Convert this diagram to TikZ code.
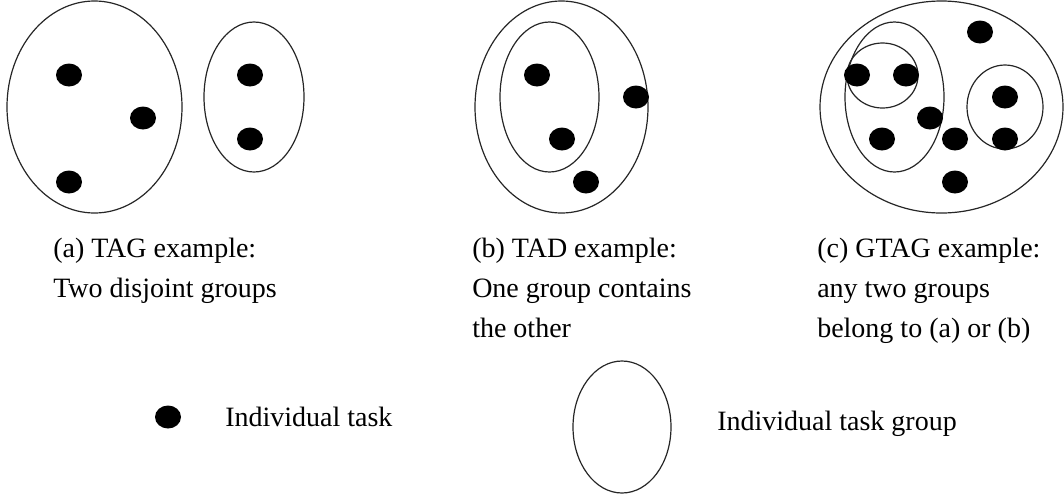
\documentclass[tikz,border=0pt]{standalone}
\usepackage{fontspec}
\setmainfont{Liberation Serif}
\usetikzlibrary{shapes}
\usetikzlibrary{positioning}
\tikzset{
    tasknode/.style = {ellipse, fill=black, inner sep=0pt, minimum width=19.5pt, minimum height=17.25pt},
    groupnode/.style 2 args = {ellipse, draw=black!85, line width=0.9pt, inner sep=0pt, minimum width=#1, minimum height=#2},
    captext/.style = {align=left, anchor=north west, inner sep=0pt, font=\fontsize{21}{30}\selectfont},
    legtext/.style = {anchor=base west, inner sep=0pt, font=\fontsize{21}{30}\selectfont},
}
\begin{document}
\begin{tikzpicture}[x=0.75pt, y=-0.75pt]
  \useasboundingbox (0,0) rectangle (1064,497);
  % (a) two disjoint groups
  \node[groupnode={131.25pt}{159pt}] (ga1) at (94.5,107) {};
  \node[groupnode={75pt}{112.5pt}] (ga2) at (254,97) {};
  \node[tasknode] (ta1) at (69,75) {};
  \node[tasknode] (ta2) at (143,118) {};
  \node[tasknode] (ta3) at (69,182) {};
  \node[tasknode] (ta4) at (250,75) {};
  \node[tasknode] (ta5) at (250,139) {};
  % (b) one group inside the other
  \node[groupnode={129.75pt}{159pt}] (gb1) at (561.5,107) {};
  \node[groupnode={74.25pt}{112.5pt}] (gb2) at (549.5,97) {};
  \node[tasknode] (tb1) at (537,75) {};
  \node[tasknode] (tb2) at (636,97) {};
  \node[tasknode] (tb3) at (562,139) {};
  \node[tasknode] (tb4) at (586,182) {};
  % (c) general case
  \node[groupnode={182.25pt}{159pt}] (gc1) at (941.5,107) {};
  \node[groupnode={74.25pt}{112.5pt}] (gc2) at (894.5,97) {};
  \node[groupnode={53.25pt}{48.75pt}] (gc3) at (882.5,75.5) {};
  \node[groupnode={57pt}{63pt}] (gc4) at (1005,107) {};
  \node[tasknode] (tc1) at (857,75) {};
  \node[tasknode] (tc2) at (906,75) {};
  \node[tasknode] (tc3) at (980,32) {};
  \node[tasknode] (tc4) at (930,118) {};
  \node[tasknode] (tc5) at (882,139) {};
  \node[tasknode] (tc6) at (955,139) {};
  \node[tasknode] (tc7) at (1005,97) {};
  \node[tasknode] (tc8) at (1005,139) {};
  \node[tasknode] (tc9) at (955,182) {};
  % captions
  \node[captext] (capa) at (53,238) {(a) TAG example:\\Two disjoint groups};
  \node[captext] (capb) at (472,238) {(b) TAD example:\\One group contains\\the other};
  \node[captext] (capc) at (817,238) {(c) GTAG example:\\any two groups\\belong to (a) or (b)};
  % legend
  \node[tasknode] (legtask) at (168,417) {};
  \node[legtext] (legtasktxt) at (225,426) {Individual task};
  \node[groupnode={73.5pt}{99pt}] (leggroup) at (622,427) {};
  \node[legtext] (leggrouptxt) at (717,430) {Individual task group};
\end{tikzpicture}
\end{document}
